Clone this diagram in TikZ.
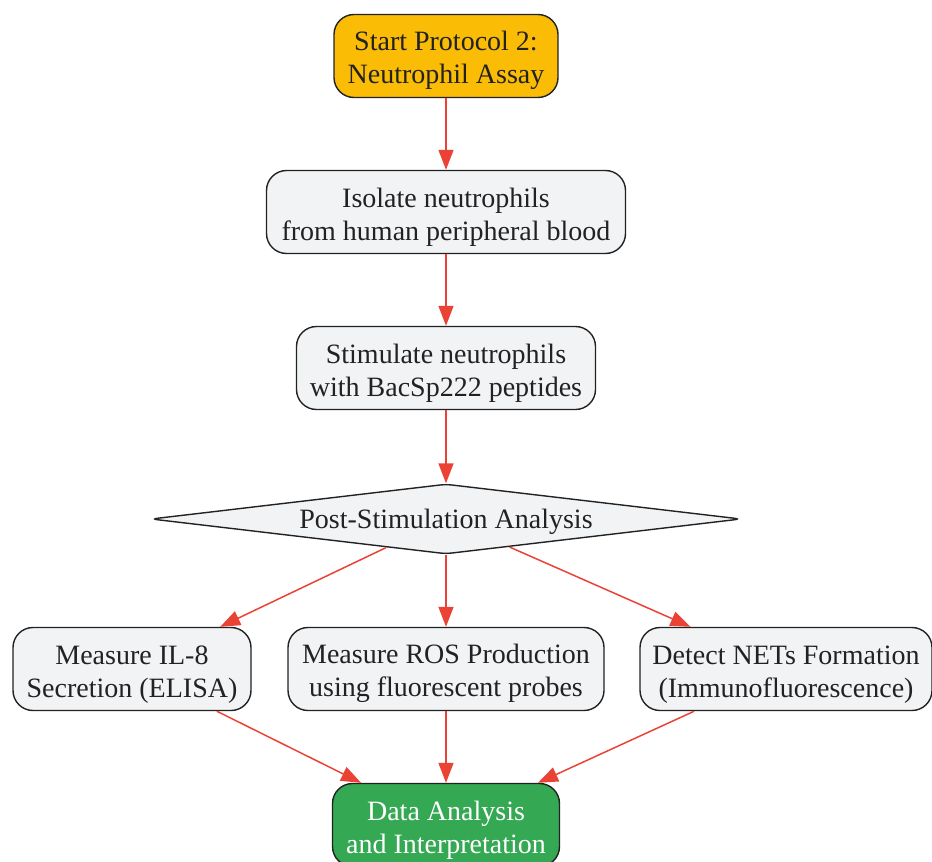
\documentclass[tikz,border=0pt]{standalone}
\usepackage{fontspec}
\setmainfont{Liberation Serif}
\usetikzlibrary{positioning, arrows.meta, shapes.geometric}
\definecolor{startamber}{HTML}{FBBC05}
\definecolor{boxgray}{HTML}{F1F3F4}
\definecolor{endgreen}{HTML}{34A853}
\definecolor{flowred}{HTML}{EA4335}
\definecolor{inkdark}{HTML}{222222}

\begin{document}
\begin{tikzpicture}[x=1pt, y=1pt, node distance=150pt, on grid,
    font=\fontsize{28}{33}\selectfont]
  \tikzset{
    stepbox/.style={draw=inkdark, line width=1.4pt, rounded corners=20pt,
      fill=boxgray, minimum height=83pt, align=center, text=inkdark,
      text height=62pt},
    startbox/.style={stepbox, fill=startamber},
    endbox/.style={stepbox, fill=endgreen, text=white},
    choice/.style={diamond, aspect=8.4, draw=inkdark, line width=1.4pt,
      fill=boxgray, rounded corners=6pt, minimum width=590pt,
      minimum height=70pt, inner sep=0pt, text=inkdark,
      execute at begin node={\rule{0pt}{25pt}}},
    flow/.style={flowred, line width=1.5pt,
      -{Triangle[width=15pt, length=20pt]}}
  }
  \useasboundingbox (0,0) rectangle (932,-862);

  \node[startbox, minimum width=224pt] (start) at (446,-56)
    {Start Protocol 2:\\Neutrophil Assay};
  \node[stepbox, minimum width=359pt] (isolate) [below=156pt of start]
    {Isolate neutrophils\\from human peripheral blood};
  \node[stepbox, minimum width=299pt] (stim) [below=156pt of isolate]
    {Stimulate neutrophils\\with BacSp222 peptides};
  \node[choice] (post) [below=151pt of stim] {Post-Stimulation Analysis};

  \node[stepbox, minimum width=238pt] (il8) [below left=150pt and 314pt of post]
    {Measure IL-8\\Secretion (ELISA)};
  \node[stepbox, minimum width=316pt] (ros) [below=150pt of post]
    {Measure ROS Production\\using fluorescent probes};
  \node[stepbox, minimum width=292pt] (nets) [below right=150pt and 340pt of post]
    {Detect NETs Formation\\(Immunofluorescence)};
  \node[endbox, minimum width=227pt] (data) [below=156pt of ros]
    {Data Analysis\\and Interpretation};

  \path[flow]
    (start) edge (isolate)
    (isolate) edge (stim)
    (stim) edge (post)
    (post) edge (il8)
    (post) edge (ros)
    (post) edge (nets)
    (il8) edge (data)
    (ros) edge (data)
    (nets) edge (data);

\end{tikzpicture}
\end{document}
